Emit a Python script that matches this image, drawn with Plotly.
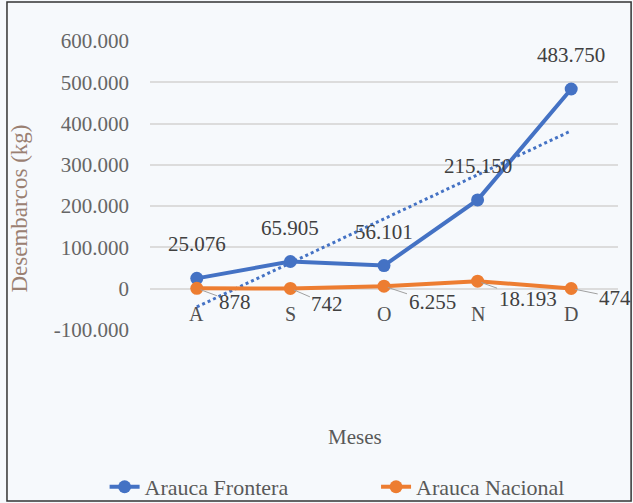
import numpy as np
import plotly.graph_objects as go

meses = ["A", "S", "O", "N", "D"]
frontera = [25076, 65905, 56101, 215150, 483750]
nacional = [878, 742, 6255, 18193, 474]
y_ticks = [-100000, 0, 100000, 200000, 300000, 400000, 500000, 600000]

BLUE = "#4472c4"
ORANGE = "#ed7d31"
BG = "#f6f9fc"
SERIF = "Liberation Serif"


def fmt(v):
    return f"{v:,}".replace(",", ".")


# linear trendline (as in Excel) from Frontera data
xi = np.arange(1, len(frontera) + 1)
slope, intercept = np.polyfit(xi, frontera, 1)
trend = slope * xi + intercept

fig = go.Figure()
fig.add_trace(go.Scatter(x=meses, y=trend, mode="lines", showlegend=False,
                         line=dict(color=BLUE, width=3, dash="dot"), hoverinfo="skip"))
fig.add_trace(go.Scatter(x=meses, y=frontera, mode="lines+markers", name="Arauca Frontera",
                         legend="legend",
                         line=dict(color=BLUE, width=4), marker=dict(size=13, color=BLUE)))
fig.add_trace(go.Scatter(x=meses, y=nacional, mode="lines+markers", name="Arauca Nacional",
                         legend="legend2",
                         line=dict(color=ORANGE, width=4), marker=dict(size=13, color=ORANGE)))

ann = []
for m, v in zip(meses, frontera):
    ann.append(dict(x=m, y=v, text=fmt(v), showarrow=False, yanchor="bottom", yshift=20,
                    font=dict(family=SERIF, size=21, color="#404040")))
offs = [(38, 14), (37, 16), (48, 16), (50, 18), (44, 9)]
for (m, v), (ax, ay) in zip(zip(meses, nacional), offs):
    ann.append(dict(x=m, y=v, text=fmt(v), showarrow=True, arrowhead=0, arrowwidth=1,
                    arrowcolor="#a0a0a0", ax=ax, ay=ay, standoff=4,
                    font=dict(family=SERIF, size=21, color="#404040")))
for m in meses:
    ann.append(dict(x=m, y=0, text=m, showarrow=False, yanchor="top", yshift=-12,
                    font=dict(family=SERIF, size=20, color="#505050")))
ann.append(dict(xref="paper", yref="paper", x=0.438, y=-0.37, xanchor="center",
                yanchor="middle", text="Meses", showarrow=False,
                font=dict(family=SERIF, size=21, color="#595959")))
ann.append(dict(xref="paper", yref="paper", x=-0.278, y=0.42, xanchor="center",
                yanchor="middle", text="Desembarcos (kg)",
                showarrow=False, textangle=-90,
                font=dict(family=SERIF, size=23, color="#9a8072")))

leg_common = dict(orientation="h", yanchor="middle", y=-0.543, xanchor="left",
                  font=dict(family=SERIF, size=22, color="#595959"),
                  bgcolor="rgba(0,0,0,0)")

fig.update_layout(
    width=633, height=503,
    font=dict(family=SERIF),
    margin=dict(l=150, r=15, t=41, b=173, autoexpand=False),
    paper_bgcolor=BG, plot_bgcolor=BG,
    annotations=ann,
    shapes=[dict(type="rect", xref="paper", yref="paper", x0=-0.3056, x1=1.028,
                 y0=-0.592, y1=1.135, line=dict(color="#333333", width=1.5))],
    legend=dict(x=-0.097, **leg_common),
    legend2=dict(x=0.483, **leg_common),
    showlegend=True,
)
fig.update_xaxes(range=[-0.5, 4.5], showgrid=False, showticklabels=False, zeroline=False,
                 showline=False, ticks="")
fig.update_yaxes(range=[-100000, 600000], tickvals=y_ticks, ticktext=[fmt(t) for t in y_ticks],
                 showgrid=True, gridcolor="#dcdcdc", gridwidth=2, zeroline=True,
                 zerolinecolor="#dcdcdc", zerolinewidth=2, showline=False, ticks="",
                 ticklabelstandoff=20,
                 tickfont=dict(family=SERIF, size=21, color="#666666"))

fig.write_html("out.html")
